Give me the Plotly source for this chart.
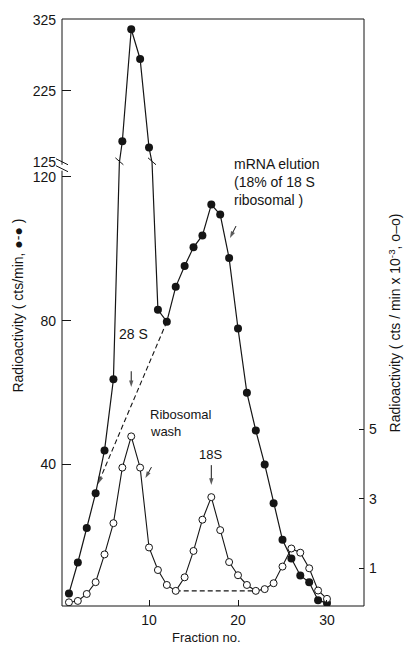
import plotly.graph_objects as go

# ---- data -------------------------------------------------------------
fractions = list(range(1, 31))

# total counts (cts/min), filled circles, left axis
cpm_total = [4.1, 12.7, 22.3, 32.0, 43.9, 63.7, 154, 312, 270, 145,
             83.0, 79.7, 89.4, 95.2, 100.4, 103.7, 112.3, 109.5, 97.4, 77.8,
             59.9, 49.4, 40.0, 29.2, 19.0, 13.8, 9.1, 7.2, 2.2, 1.4]

# ribosomal wash counts (cts/min x 10^-3), open circles, right axis
cpm_wash = [0.02, 0.06, 0.26, 0.6, 1.4, 2.3, 3.9, 4.8, 3.9, 1.6,
            0.95, 0.52, 0.35, 0.74, 1.5, 2.4, 3.05, 2.1, 1.18, 0.8,
            0.52, 0.35, 0.4, 0.57, 1.05, 1.57, 1.45, 1.0, 0.36, 0.12]

x_ticks = [10, 20, 30]
low_ticks = [40, 80, 120]
high_ticks = [125, 225, 325]
right_ticks = [1, 3, 5]

# ---- geometry ---------------------------------------------------------
W, H = 405, 649
ML, MR, MT, MB = 62, 41, 14, 43
PW, PH = W - ML - MR, H - MT - MB
BREAK_Y = 158  # pixel row where the left scale is broken


def px(xp):
    return (xp - ML) / PW


def py(yp):
    return (MT + PH - yp) / PH


split = py(BREAK_Y)
X_RANGE = [0.22, 34.16]
LOW_RANGE = [0.6, 124.2]
HIGH_RANGE = [125, 326.4]
RIGHT_RANGE = [-0.086, 12.71]

# data units per pixel on each scale
x_per_px = (X_RANGE[1] - X_RANGE[0]) / PW
low_per_px = (LOW_RANGE[1] - LOW_RANGE[0]) / (PH * split)
right_per_px = (RIGHT_RANGE[1] - RIGHT_RANGE[0]) / (PH * split)

INK = "#151515"
FONT = "Liberation Sans"

fig = go.Figure()

line_style = dict(color=INK, width=1.2)
filled_marker = dict(symbol="circle", size=8, color=INK, line=dict(width=0))
open_marker = dict(symbol="circle", size=7, color="white",
                   line=dict(color=INK, width=1))

# filled series on both halves of the broken scale
for ya in ("y", "y2"):
    fig.add_trace(go.Scatter(x=fractions, y=cpm_total, mode="lines+markers",
                             line=line_style, marker=filled_marker,
                             xaxis="x", yaxis=ya, showlegend=False))

# dashed guide from the trough back to the rising limb, with arrow head
tip_x, tip_y = fractions[3] + 0.25, cpm_total[3] + 2.5
fig.add_trace(go.Scatter(x=[fractions[11], tip_x], y=[cpm_total[11], tip_y],
                         mode="lines+markers",
                         line=dict(color=INK, width=1.1, dash="5px,3px"),
                         marker=dict(symbol="arrow", size=[0, 8], color=INK,
                                     angleref="previous", line=dict(width=0)),
                         xaxis="x", yaxis="y", showlegend=False))

# ribosomal wash series (right scale)
fig.add_trace(go.Scatter(x=[fractions[12], fractions[21]],
                         y=[cpm_wash[12], cpm_wash[21]], mode="lines",
                         line=dict(color=INK, width=1.1, dash="5px,3px"),
                         xaxis="x", yaxis="y3", showlegend=False))
fig.add_trace(go.Scatter(x=fractions, y=cpm_wash, mode="lines+markers",
                         line=dict(color=INK, width=1.1), marker=open_marker,
                         xaxis="x", yaxis="y3", showlegend=False))


def pointer(x_tip, y_tip, dx_px, dy_px, ya, per_px):
    """Short arrow ending at (x_tip, y_tip); tail offset given in pixels."""
    fig.add_trace(go.Scatter(
        x=[x_tip + dx_px * x_per_px, x_tip],
        y=[y_tip + dy_px * per_px, y_tip],
        mode="lines+markers", line=dict(color=INK, width=1),
        marker=dict(symbol="arrow", size=[0, 7], color=INK,
                    angleref="previous", line=dict(width=0)),
        xaxis="x", yaxis=ya, showlegend=False, hoverinfo="skip"))


# 28 S and 18 S positions
pointer(fractions[7], 61.5, 0, 16, "y", low_per_px)
pointer(fractions[16], cpm_wash[16] + 0.35, 0, 20, "y3", right_per_px)
# ribosomal wash and mRNA elution pointers
pointer(fractions[8] + 0.6, cpm_wash[8] - 0.3, 6, 11, "y3", right_per_px)
pointer(fractions[17] + 1.1, 103.0, 6, 12, "y", low_per_px)

tickfont = dict(family=FONT, size=14, color=INK)
axis_common = dict(showgrid=False, zeroline=False, showline=False,
                   ticks="inside", tickcolor=INK, tickwidth=1,
                   tickfont=tickfont)

fig.update_layout(
    width=W, height=H,
    margin=dict(l=ML, r=MR, t=MT, b=MB, pad=0),
    paper_bgcolor="white", plot_bgcolor="white",
    xaxis=dict(domain=[0, 1], range=X_RANGE, anchor="y", tickvals=x_ticks,
               ticklen=6, ticklabelstandoff=4, **axis_common),
    yaxis=dict(domain=[0, split], range=LOW_RANGE, anchor="x",
               tickvals=low_ticks, ticklen=9, ticklabelstandoff=5,
               **axis_common),
    yaxis2=dict(domain=[split, 1], range=HIGH_RANGE, anchor="x",
                tickvals=high_ticks, ticklen=9, ticklabelstandoff=5,
                **axis_common),
    yaxis3=dict(overlaying="y", side="right", anchor="x", range=RIGHT_RANGE,
                tickvals=right_ticks, ticklen=5, ticklabelstandoff=4,
                **axis_common),
)

# ---- frame and break marks -------------------------------------------
shapes = [dict(type="rect", xref="paper", yref="paper", x0=0, x1=1, y0=0, y1=1,
               line=dict(color=INK, width=1), layer="above")]

# gap in the left axis with two slashes
shapes.append(dict(type="rect", xref="paper", yref="paper",
                   x0=px(59), x1=px(65), y0=py(167), y1=py(161),
                   fillcolor="white", line=dict(width=0), layer="above"))
for dy in (0, 7):
    shapes.append(dict(type="line", xref="paper", yref="paper",
                       x0=px(56), y0=py(155 + dy), x1=px(68), y1=py(161 + dy),
                       line=dict(color=INK, width=1), layer="above"))

# slashes where the filled curve crosses the break
for i in range(len(fractions) - 1):
    a, b = cpm_total[i], cpm_total[i + 1]
    if (a - LOW_RANGE[1]) * (b - LOW_RANGE[1]) < 0:
        xc = fractions[i] + (LOW_RANGE[1] - a) / (b - a) * (fractions[i + 1] - fractions[i])
        shapes.append(dict(type="line", xref="x", yref="paper",
                           x0=xc - 4 * x_per_px, y0=py(BREAK_Y - 4),
                           x1=xc + 4 * x_per_px, y1=py(BREAK_Y + 3),
                           line=dict(color=INK, width=1), layer="above"))
fig.update_layout(shapes=shapes)

# ---- text -------------------------------------------------------------
ann = []


def label(text, xp, yp, anchor="left", size=13, angle=0):
    ann.append(dict(text=text, xref="paper", yref="paper", x=px(xp), y=py(yp),
                    xanchor=anchor, yanchor="middle", showarrow=False,
                    textangle=angle, font=dict(family=FONT, size=size, color=INK)))


label("mRNA elution", 232, 160, size=14)
label("(18% of 18 S", 232, 178, size=14)
label("ribosomal )", 232, 197, size=14)
label("28 S", 133, 332, anchor="center", size=14)
label("Ribosomal", 148, 413)
label("wash", 148, 430)
label("18S", 210, 453, anchor="center")
label("Fraction no.", 206, 638, anchor="center")
label("Radioactivity ( cts/min, ●-● )", 18, 303, anchor="center", size=14, angle=-90)
label("Radioactivity ( cts / min x 10<sup>-3</sup>, o–o)", 395, 321,
      anchor="center", size=14, angle=-90)

fig.update_layout(annotations=ann)

fig.write_html("out.html")
